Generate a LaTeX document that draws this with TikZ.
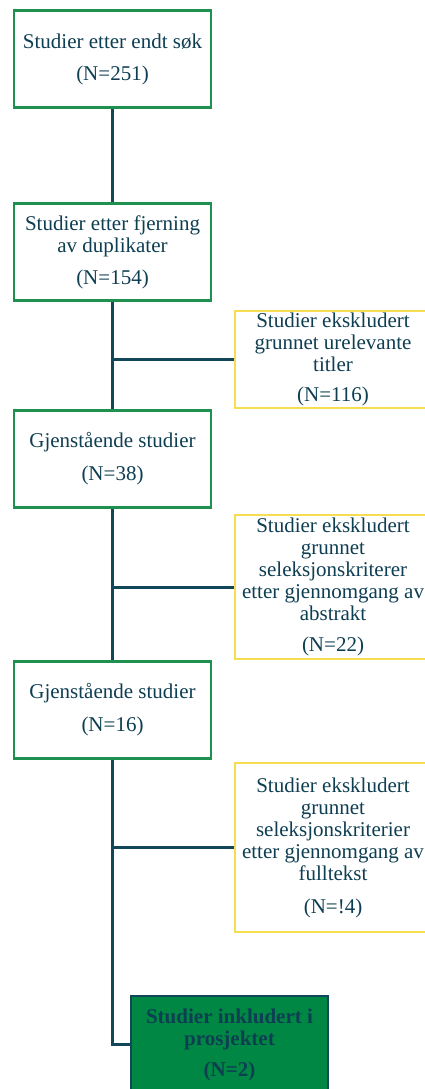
\documentclass[tikz,border=0pt]{standalone}
\usepackage{fontspec}
\setmainfont{Liberation Serif}
\definecolor{boxgreen}{RGB}{30,145,80}
\definecolor{fillgreen}{RGB}{0,135,68}
\definecolor{ink}{RGB}{14,62,82}
\definecolor{lineteal}{RGB}{18,70,90}
\definecolor{boxyellow}{RGB}{247,222,80}
\begin{document}
\begin{tikzpicture}[x=1pt,y=-1pt,
  every node/.style={text=ink, align=center, font=\fontsize{21}{22}\selectfont, inner sep=0pt},
  mainbox/.style={draw=boxgreen, line width=2.8pt, fill=white, minimum width=197pt, minimum height=97pt},
  exclbox/.style={draw=boxyellow, line width=2.5pt, fill=white, minimum width=196pt},
  finalbox/.style={draw=lineteal, line width=2.8pt, fill=fillgreen, minimum width=197pt, minimum height=97pt, font=\fontsize{21}{22}\selectfont\bfseries},
  conn/.style={draw=lineteal, line width=3pt}]
\useasboundingbox (0,0) rectangle (425,1089);
\clip (0,0) rectangle (425,1089);
\fill[white] (0,0) rectangle (425,1089);

\node[mainbox] (b1) at (112.5,59) {Studier etter endt søk\\[10pt](N=251)};
\node[mainbox] (b2) at (112.5,252) {Studier etter fjerning\\av duplikater\\[10pt](N=154)};
\node[mainbox] (b3) at (112.5,459) {Gjenstående studier\\[11pt](N=38)};
\node[mainbox] (b4) at (112.5,710) {Gjenstående studier\\[11pt](N=16)};
\node[finalbox] (b5) at (229.5,1044.5) {Studier inkludert i\\prosjektet\\[9pt](N=2)};

\node[exclbox, minimum height=97pt] (y1) at (333,359.5) {Studier ekskludert\\grunnet urelevante\\titler\\[8pt](N=116)};
\node[exclbox, minimum height=144pt] (y2) at (333,587) {Studier ekskludert\\grunnet\\seleksjonskriterer\\etter gjennomgang av\\abstrakt\\[9pt](N=22)};
\node[exclbox, minimum height=169pt] (y3) at (333,847.5) {Studier ekskludert\\grunnet\\seleksjonskriterier\\etter gjennomgang av\\fulltekst\\[11pt](N=!4)};

\coordinate (turn) at (b4.south |- b5.west);
\draw[conn] (b1.south) -- (b2.north);
\draw[conn] (b2.south) -- (b3.north);
\draw[conn] (b3.south) -- (b4.north);
\draw[conn] (b4.south) -- (turn) -- (b5.west);
\draw[conn] (b2.south |- y1.west) -- (y1.west);
\draw[conn] (b3.south |- y2.west) -- (y2.west);
\draw[conn] (b4.south |- y3.west) -- (y3.west);
\end{tikzpicture}
\end{document}
